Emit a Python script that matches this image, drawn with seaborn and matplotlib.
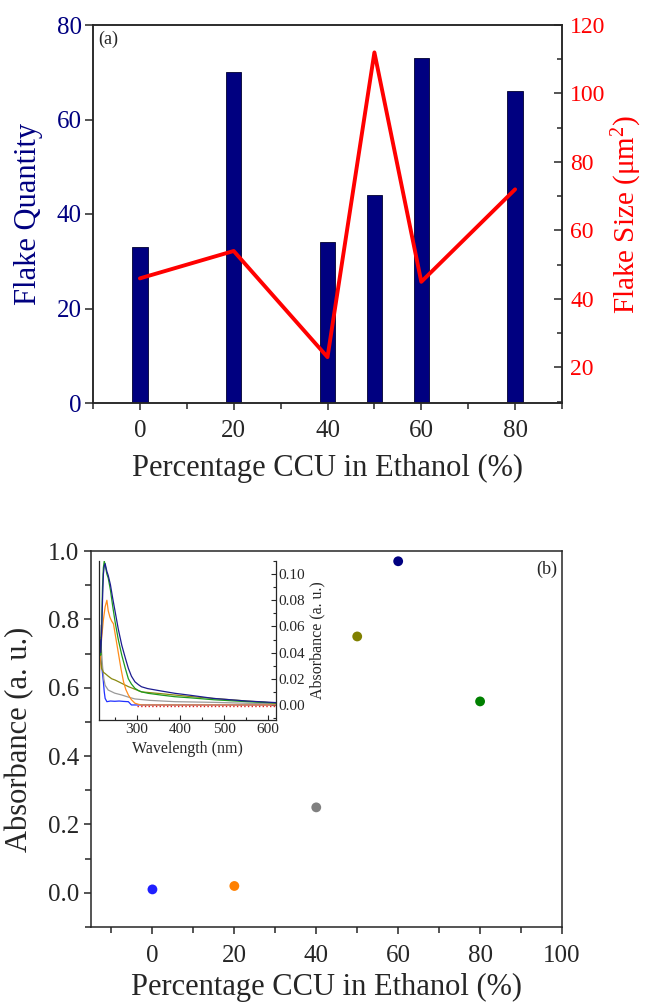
import matplotlib
matplotlib.use("Agg")
import matplotlib.pyplot as plt
import seaborn as sns
import pandas as pd
from matplotlib.ticker import MultipleLocator

# ---------------- data ----------------
ccu = [0, 20, 40, 50, 60, 80]
flake_quantity = [33, 70, 34, 44, 73, 66]
flake_size = [46, 54, 23, 112, 45, 72]
absorbance = [0.01, 0.02, 0.25, 0.75, 0.97, 0.56]
point_colors = ["#1f1fff", "#ff8000", "#808080", "#808000", "#000080", "#008000"]

wl_navy = [214, 216, 218, 220, 222, 224, 226, 228, 232, 235, 240, 245, 251, 258, 266, 274,
           281, 288, 296, 304, 311, 325, 357, 387, 420, 475, 551, 618]
ab_navy = [0.035, 0.050, 0.040, 0.055, 0.080, 0.100, 0.106, 0.108, 0.102, 0.099, 0.092, 0.082,
           0.071, 0.058, 0.0456, 0.036, 0.028, 0.022, 0.0177, 0.0155, 0.0139, 0.0125, 0.0106,
           0.0089, 0.0075, 0.005, 0.003, 0.0018]
wl_green = [214, 216, 218, 220, 222, 224, 226, 228, 232, 235, 240, 245, 251, 258, 266, 274,
            281, 288, 296, 304, 311, 326, 357, 387, 420, 475, 551, 618]
ab_green = [0.030, 0.045, 0.038, 0.060, 0.090, 0.105, 0.110, 0.107, 0.100, 0.097, 0.088, 0.076,
            0.063, 0.050, 0.038, 0.028, 0.020, 0.016, 0.0127, 0.011, 0.010, 0.0089, 0.0075,
            0.0063, 0.0055, 0.004, 0.0025, 0.0015]
wl_orange = [214, 217, 220, 224, 228, 232, 235, 239, 243, 247, 252, 258, 264, 270, 275, 281,
             288, 296, 304, 311, 350, 400, 450, 500, 550, 618]
ab_orange = [0.020, 0.035, 0.051, 0.065, 0.075, 0.080, 0.072, 0.067, 0.064, 0.062, 0.052, 0.040,
             0.028, 0.0177, 0.012, 0.0076, 0.004, 0.0013, 0.0005, 0.0, 0.0, 0.0, 0.0, 0.0, 0.0, 0.0]
wl_olive = [214, 216, 218, 220, 224, 228, 235, 243, 251, 266, 281, 296, 311, 350, 387, 420,
            475, 551, 618]
ab_olive = [0.045, 0.052, 0.035, 0.028, 0.025, 0.024, 0.022, 0.020, 0.019, 0.0165, 0.014, 0.012,
            0.010, 0.0088, 0.0076, 0.0065, 0.005, 0.003, 0.0015]
wl_gray = [214, 216, 219, 222, 225, 228, 235, 250, 266, 281, 296, 330, 387, 475, 551, 618]
ab_gray = [0.055, 0.061, 0.045, 0.030, 0.020, 0.015, 0.0114, 0.009, 0.0076, 0.006, 0.0046,
           0.0035, 0.0025, 0.002, 0.0013, 0.001]
wl_blue = [214, 216, 218, 220, 222, 224, 226, 228, 232, 240, 250, 260, 270, 281, 288, 300,
           350, 450, 550, 618]
ab_blue = [0.030, 0.043, 0.035, 0.030, 0.024, 0.0177, 0.010, 0.005, 0.0025, 0.003, 0.0028,
           0.003, 0.0027, 0.0025, 0.0, 0.0, 0.0, 0.0, 0.0, 0.0]
wl_red = [300, 618]
ab_red = [-0.0005, -0.0005]

# ---------------- style ----------------
sns.set_style("ticks")
plt.rcParams["font.family"] = ["Liberation Serif", "DejaVu Serif"]
plt.rcParams["mathtext.fontset"] = "custom"
plt.rcParams["mathtext.rm"] = "Liberation Serif"
plt.rcParams["mathtext.it"] = "Liberation Serif:italic"
plt.rcParams["axes.linewidth"] = 1.1

NAVY = "#000080"
RED = "#ff0000"

fig = plt.figure(figsize=(6.47, 10.06), dpi=100)

# ---------------- (a) ----------------
ax = fig.add_axes([93 / 647, 1 - 403 / 1006, 469 / 647, 378 / 1006])
df_a = pd.DataFrame({"ccu": ccu, "qty": flake_quantity, "size": flake_size})
sns.barplot(data=df_a, x="ccu", y="qty", native_scale=True, width=0.33,
            color=NAVY, edgecolor="#000030", linewidth=0.6, saturation=1, ax=ax)
ax.set_xlim(-10, 90)
ax.set_ylim(0, 80)
ax.xaxis.set_major_locator(MultipleLocator(20))
ax.xaxis.set_minor_locator(MultipleLocator(10))
ax.yaxis.set_major_locator(MultipleLocator(20))
ax.tick_params(axis="x", which="major", direction="out", length=5, width=1.1, labelsize=18, pad=7)
ax.tick_params(axis="x", which="minor", direction="out", length=4, width=1.1)
ax.tick_params(axis="y", which="major", direction="out", length=6, width=1.1,
               labelsize=18, labelcolor=NAVY, pad=2)
ax.set_xlabel("Percentage CCU in Ethanol (%)", fontsize=22, labelpad=9)
ax.set_ylabel("Flake Quantity", fontsize=22, color=NAVY, labelpad=10)
ax.text(0.012, 0.985, "(a)", transform=ax.transAxes, ha="left", va="top", fontsize=13)

ax2 = ax.twinx()
sns.lineplot(data=df_a, x="ccu", y="size", color=RED, linewidth=2.8, ax=ax2)
ax2.set_ylim(9.6, 120)
ax2.yaxis.set_minor_locator(MultipleLocator(10))
ax2.set_yticks([20, 40, 60, 80, 100, 120])
ax2.tick_params(axis="y", which="major", direction="in", length=6, width=1.1,
                labelsize=17, labelcolor=RED, pad=6)
ax2.tick_params(axis="y", which="minor", direction="in", length=3.5, width=1.1)
ax2.set_ylabel("Flake Size (μm$^{2}$)", fontsize=21, color=RED, labelpad=3)
ax2.set_xlabel("")

# ---------------- (b) ----------------
bx = fig.add_axes([91 / 647, 1 - 927 / 1006, 471 / 647, 376 / 1006])
df_b = pd.DataFrame({"ccu": ccu, "abs": absorbance, "grp": [str(c) for c in ccu]})
sns.scatterplot(data=df_b, x="ccu", y="abs", hue="grp", palette=point_colors,
                s=50, edgecolor="none", legend=False, ax=bx)
bx.set_xlim(-15, 100)
bx.set_ylim(-0.1, 1.0)
bx.xaxis.set_major_locator(MultipleLocator(20))
bx.xaxis.set_minor_locator(MultipleLocator(10))
bx.yaxis.set_major_locator(MultipleLocator(0.2))
bx.yaxis.set_minor_locator(MultipleLocator(0.1))
bx.yaxis.set_major_formatter(matplotlib.ticker.FormatStrFormatter("%.1f"))
bx.tick_params(axis="x", which="major", direction="out", length=5, width=1.1, labelsize=18, pad=8)
bx.tick_params(axis="y", which="major", direction="out", length=5, width=1.1, labelsize=18)
bx.tick_params(axis="both", which="minor", direction="out", length=4, width=1.1)
bx.set_xlabel("Percentage CCU in Ethanol (%)", fontsize=22, labelpad=4)
bx.set_ylabel("Absorbance (a. u.)", fontsize=22, labelpad=10)
for s in ["top", "right"]:
    bx.spines[s].set_visible(True)
bx.text(0.99, 0.975, "(b)", transform=bx.transAxes, ha="right", va="top", fontsize=13)

# ---------------- inset ----------------
ix = fig.add_axes([99 / 647, 1 - 720 / 1006, 177 / 647, 159 / 1006])
curves = [
    (wl_blue, ab_blue, "#2030ff"),
    (wl_gray, ab_gray, "#9a9a9a"),
    (wl_olive, ab_olive, "#8a8a10"),
    (wl_orange, ab_orange, "#ff8c1a"),
    (wl_green, ab_green, "#1e9a1e"),
    (wl_navy, ab_navy, "#1c1c90"),
]
for wl, ab, col in curves:
    sns.lineplot(x=wl, y=ab, color=col, linewidth=0.9, ax=ix, sort=False)
sns.lineplot(x=wl_red, y=ab_red, color="#e02020", linewidth=1.0, linestyle=":", ax=ix)
ix.set_xlim(214, 618)
ix.set_ylim(-0.0115, 0.11)
ix.patch.set_alpha(0)
ix.spines["top"].set_visible(False)
ix.yaxis.tick_right()
ix.yaxis.set_label_position("right")
ix.xaxis.set_major_locator(MultipleLocator(100))
ix.xaxis.set_minor_locator(MultipleLocator(50))
ix.yaxis.set_major_locator(MultipleLocator(0.02))
ix.yaxis.set_minor_locator(MultipleLocator(0.01))
ix.yaxis.set_major_formatter(matplotlib.ticker.FormatStrFormatter("%.2f"))
ix.tick_params(axis="both", which="major", direction="in", length=3.5, width=0.8, labelsize=11, pad=2)
ix.tick_params(axis="both", which="minor", direction="in", length=2, width=0.8)
for s in ["left", "right", "bottom"]:
    ix.spines[s].set_linewidth(0.9)
ix.set_xlabel("Wavelength (nm)", fontsize=11.5, labelpad=4)
ix.set_ylabel("Absorbance (a. u.)", fontsize=11.5, labelpad=3, rotation=90)

fig.savefig("out.png", dpi=100)
